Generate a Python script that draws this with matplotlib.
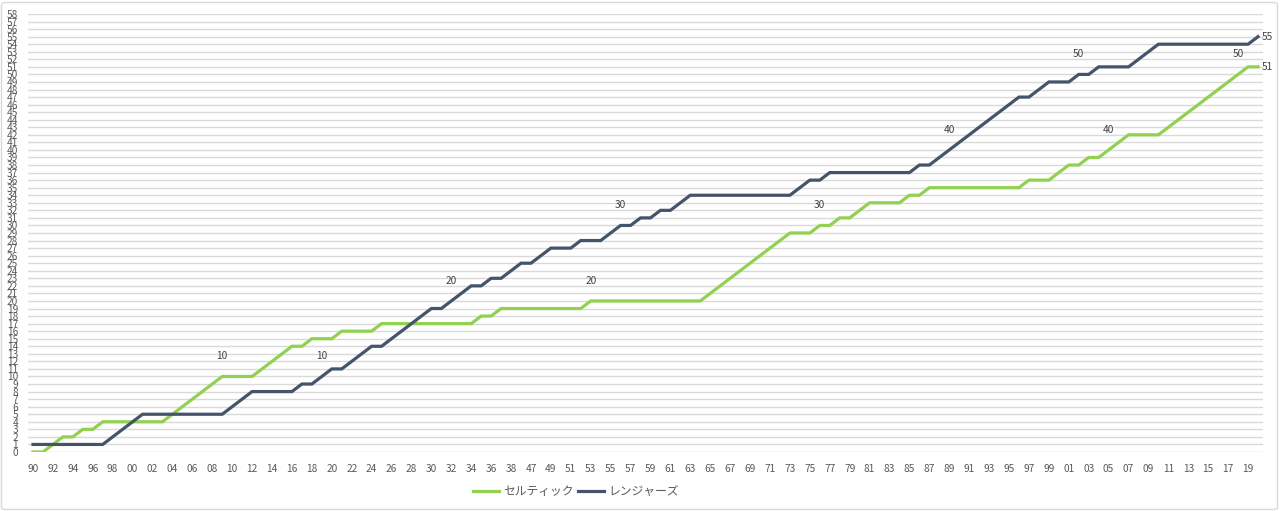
import matplotlib
matplotlib.use('Agg')
import matplotlib.pyplot as plt
from matplotlib.patches import FancyBboxPatch

plt.rcParams['font.family'] = ['Noto Sans CJK JP', 'DejaVu Sans']

# seasons (start year); no league 1939-1945
seasons = list(range(1890, 1939)) + list(range(1946, 2021))

# cumulative league titles
celtic = [0, 0, 1, 2, 2, 3, 3, 4, 4, 4, 4, 4, 4, 4, 5, 6, 7, 8, 9, 10,
          10, 10, 10, 11, 12, 13, 14, 14, 15, 15, 15, 16, 16, 16, 16, 17,
          17, 17, 17, 17, 17, 17, 17, 17, 17, 18, 18, 19, 19,
          19, 19, 19, 19, 19, 19, 19, 20, 20, 20, 20, 20, 20, 20, 20, 20, 20,
          20, 20, 21, 22, 23, 24, 25, 26, 27, 28, 29, 29, 29, 30, 30, 31, 31,
          32, 33, 33, 33, 33, 34, 34, 35, 35, 35, 35, 35, 35, 35, 35, 35, 35,
          36, 36, 36, 37, 38, 38, 39, 39, 40, 41, 42, 42, 42, 42, 43, 44, 45,
          46, 47, 48, 49, 50, 51, 51]
rangers = [1, 1, 1, 1, 1, 1, 1, 1, 2, 3, 4, 5, 5, 5, 5, 5, 5, 5, 5, 5,
           6, 7, 8, 8, 8, 8, 8, 9, 9, 10, 11, 11, 12, 13, 14, 14, 15, 16,
           17, 18, 19, 19, 20, 21, 22, 22, 23, 23, 24,
           25, 25, 26, 27, 27, 27, 28, 28, 28, 29, 30, 30, 31, 31, 32, 32, 33,
           34, 34, 34, 34, 34, 34, 34, 34, 34, 34, 34, 35, 36, 36, 37, 37, 37,
           37, 37, 37, 37, 37, 37, 38, 38, 39, 40, 41, 42, 43, 44, 45, 46, 47,
           47, 48, 49, 49, 49, 50, 50, 51, 51, 51, 51, 52, 53, 54, 54, 54, 54,
           54, 54, 54, 54, 54, 54, 55]

series = [('セルティック', celtic, '#92D050'), ('レンジャーズ', rangers, '#44546A')]
milestones = [10, 20, 30, 40, 50]

x = list(range(len(seasons)))
xlabels = ['%02d' % (s % 100) for s in seasons]

fig = plt.figure(figsize=(12.8, 5.11), dpi=100)
ax = fig.add_axes([28/1280, 1 - 452/511, (1263 - 28)/1280, (452 - 14)/511])

for name, vals, col in series:
    ax.plot(x, vals, color=col, lw=2.3, label=name, solid_joinstyle='miter')
    for m in milestones:
        if m in vals:
            i = vals.index(m)
            ax.annotate(str(m), (x[i], vals[i]), xytext=(0, 11),
                        textcoords='offset points', ha='center', va='bottom',
                        fontsize=7.3, color='#404040')
    ax.annotate(str(vals[-1]), (x[-1], vals[-1]), xytext=(3, 0),
                textcoords='offset points', ha='left', va='center',
                fontsize=7.3, color='#404040')

ax.set_xlim(-0.5, len(seasons) - 0.5)
ax.set_ylim(0, 58)
ax.set_yticks(range(0, 59))
ax.set_yticklabels([str(v) for v in range(0, 59)], fontsize=7.3, color='#595959')
ax.set_xticks(x[::2])
ax.set_xticklabels(xlabels[::2], fontsize=7.3, color='#595959')
ax.tick_params(length=0)
ax.tick_params(axis='x', pad=9)
ax.tick_params(axis='y', pad=7)
ax.grid(axis='y', color='#D9D9D9', lw=1)
ax.set_axisbelow(True)
for sp in ax.spines.values():
    sp.set_visible(False)

leg = fig.legend(loc='center', bbox_to_anchor=(576/1280, 1 - 492/511), ncol=2,
                 frameon=False, fontsize=8.5, handlelength=2.2, columnspacing=0.35,
                 handletextpad=0.35)
for t in leg.get_texts():
    t.set_color('#595959')

fig.patches.append(FancyBboxPatch((1.5/1280, 1.5/511), 1276/1280, 507/511,
                                  boxstyle='round,pad=0,rounding_size=0.004',
                                  transform=fig.transFigure, fill=False,
                                  ec='#D9D9D9', lw=1))

fig.savefig('out.png', dpi=100)
